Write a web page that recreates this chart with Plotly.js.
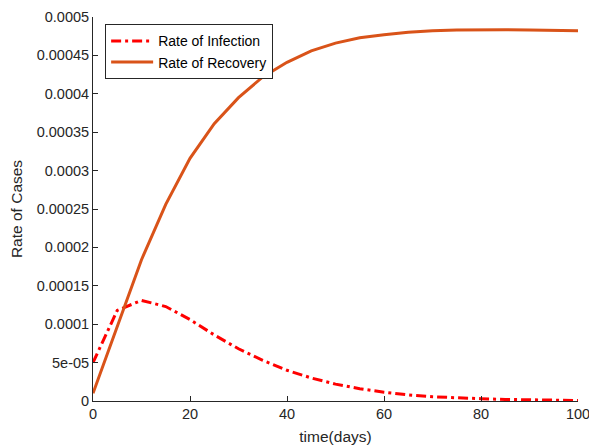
<!DOCTYPE html>
<html>
<head>
<meta charset="utf-8">
<script src="https://cdn.plot.ly/plotly-3.0.1.min.js"></script>
<style>html,body{margin:0;padding:0;background:#fff;}#chart{width:589px;height:448px;}</style>
</head>
<body>
<div id="chart"></div>
<script>
const days = [0,5,10,15,20,25,30,35,40,45,50,55,60,65,70,75,80,85,90,95,100];
const infection = [5.0e-5,1.18e-4,1.31e-4,1.23e-4,1.06e-4,8.6e-5,6.8e-5,5.3e-5,4.0e-5,3.0e-5,2.2e-5,1.6e-5,1.15e-5,8.0e-6,5.5e-6,4.0e-6,3.0e-6,2.0e-6,1.5e-6,1.0e-6,0.7e-6];
const recovery = [1.0e-5,9.6e-5,1.84e-4,2.56e-4,3.16e-4,3.61e-4,3.95e-4,4.22e-4,4.41e-4,4.56e-4,4.66e-4,4.73e-4,4.77e-4,4.80e-4,4.82e-4,4.83e-4,4.835e-4,4.835e-4,4.83e-4,4.825e-4,4.82e-4];
const yTickVals = [0,5e-5,1e-4,1.5e-4,2e-4,2.5e-4,3e-4,3.5e-4,4e-4,4.5e-4,5e-4];
const yTickText = ['0','5e-05','0.0001','0.00015','0.0002','0.00025','0.0003','0.00035','0.0004','0.00045','0.0005'];
const xTickVals = [0,20,40,60,80,100];
const xTickText = ['0','20','40','60','80','100'];

const FONT = 'Arial, "Liberation Sans", sans-serif';
const traces = [
  {x: days, y: infection, name: 'Rate of Infection', mode: 'lines',
   line: {color: '#FF0000', width: 3, dash: '10px,4px,3px,4px'}},
  {x: days, y: recovery, name: 'Rate of Recovery', mode: 'lines',
   line: {color: '#D95319', width: 3}}
];
const axisFont = {family: FONT, size: 14.5, color: '#262626'};
const layout = {
  width: 589, height: 448,
  margin: {l: 93, r: 11, t: 17, b: 47},
  paper_bgcolor: '#fff', plot_bgcolor: '#fff',
  showlegend: true,
  legend: {x: 0.025, y: 0.981, xanchor: 'left', yanchor: 'top',
    bgcolor: '#fff', bordercolor: '#262626', borderwidth: 1,
    font: {family: FONT, size: 14, color: '#000'},
    itemwidth: 42, tracegroupgap: 0},
  xaxis: {range: [0, 100], tickvals: xTickVals, ticktext: xTickText,
    showline: true, linecolor: '#262626', linewidth: 1, mirror: false,
    ticks: 'inside', ticklen: 5, tickcolor: '#262626', showgrid: false, zeroline: false,
    tickfont: axisFont, ticklabeloverflow: 'allow',
    title: {text: 'time(days)', font: {family: FONT, size: 15.5, color: '#262626'}, standoff: 9}},
  yaxis: {range: [0, 0.0005], tickvals: yTickVals, ticktext: yTickText,
    showline: true, linecolor: '#262626', linewidth: 1, mirror: false,
    ticks: 'inside', ticklen: 5, tickcolor: '#262626', showgrid: false, zeroline: false,
    tickfont: axisFont, ticklabeloverflow: 'allow',
    title: {text: 'Rate of Cases', font: {family: FONT, size: 15.5, color: '#262626'}, standoff: 10}}
};
Plotly.newPlot('chart', traces, layout, {displayModeBar: false, staticPlot: true});
</script>
</body>
</html>
